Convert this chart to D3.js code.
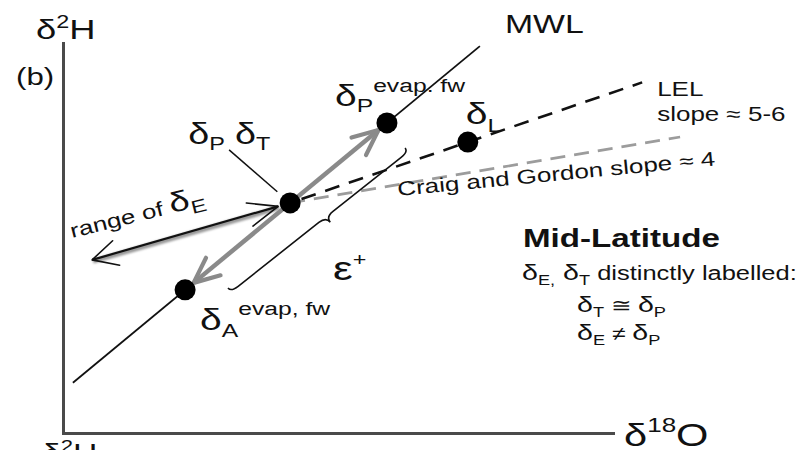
<!DOCTYPE html>
<html>
<head>
<meta charset="utf-8">
<script src="https://cdn.jsdelivr.net/npm/d3@7/dist/d3.min.js"></script>
<style>
  html, body { margin: 0; padding: 0; background: #fff; }
  svg { display: block; }
  text { font-family: "Liberation Sans", Arial, sans-serif; fill: #111; }
</style>
</head>
<body>
<svg id="chart" width="806" height="450"></svg>
<script>
// Conceptual δ18O / δ2H diagram, in relative isotope units (0–100 on each axis).
const pointNames = ["δA", "δP,δT", "δP evap", "δL"];
const pointO18 = [22.2, 41.3, 58.9, 73.6];
const pointH2 = [36.7, 59.0, 79.5, 74.6];

// Meteoric water line
const mwlO18 = [1.8, 75.8];
const mwlH2 = [12.9, 99.2];
// Local evaporation line
const lelO18 = [41.3, 105.3];
const lelH2 = [59.0, 89.9];
// Craig and Gordon line
const cgO18 = [41.3, 112.2];
const cgH2 = [59.0, 75.9];
// Range of δE (from δP,δT towards depleted values)
const rangeEO18 = [41.3, 5.3];
const rangeEH2 = [59.0, 44.4];
// ε+ bracket ends
const braceO18 = [30.0, 62.2];
const braceH2 = [37.2, 73.1];
// Leader from the δP,δT label to its point
const leaderO18 = [30.2, 41.3];
const leaderH2 = [72.6, 59.0];

const axisLabels = { y: "H", ySup: "2", x: "O", xSup: "18" };

const svg = d3.select("#chart");
const x = d3.scaleLinear().domain([0, 100]).range([63, 613]);
const y = d3.scaleLinear().domain([0, 100]).range([433, 43]);
const SX = 1.3; // horizontal text stretch

const P = i => [x(pointO18[i]), y(pointH2[i])];
const pair = (xs, ys) => xs.map((v, i) => [x(v), y(ys[i])]);

// Shorten a segment so it stops short of a marker
function trim(a, b, da, db) {
  const dx = b[0] - a[0], dy = b[1] - a[1], L = Math.hypot(dx, dy);
  const ux = dx / L, uy = dy / L;
  return [[a[0] + ux * da, a[1] + uy * da], [b[0] - ux * db, b[1] - uy * db]];
}
// Open V arrowhead at tip, pointing along (from -> tip)
function vHead(g, from, tip, len, ang, stroke, w) {
  const back = Math.atan2(from[1] - tip[1], from[0] - tip[0]);
  const a = ang * Math.PI / 180;
  const p1 = [tip[0] + len * Math.cos(back + a), tip[1] + len * Math.sin(back + a)];
  const p2 = [tip[0] + len * Math.cos(back - a), tip[1] + len * Math.sin(back - a)];
  g.append("path")
    .attr("d", `M${p1}L${tip}L${p2}`)
    .attr("fill", "none").attr("stroke", stroke).attr("stroke-width", w)
    .attr("stroke-linecap", "round").attr("stroke-linejoin", "round");
}
// Text with sub/superscript parts
function label(px, py, rot, parts, weight) {
  const t = svg.append("text")
    .attr("transform", `translate(${px},${py}) rotate(${rot}) scale(${SX},1)`)
    .attr("font-weight", weight || "normal");
  parts.forEach(p => {
    const s = t.append("tspan").attr("font-size", p.size).text(p.t);
    if (p.dy) s.attr("dy", p.dy);
    if (p.dx) s.attr("dx", p.dx);
  });
  return t;
}

const defs = svg.append("defs");
defs.append("filter").attr("id", "soft").attr("x", "-10%").attr("y", "-50%")
  .attr("width", "120%").attr("height", "200%")
  .append("feGaussianBlur").attr("stdDeviation", 1.2);

// Axes (no ticks)
const axX = svg.append("g").attr("transform", `translate(0,${y(0)})`)
  .call(d3.axisBottom(x).tickValues([]).tickSizeOuter(0));
const axY = svg.append("g").attr("transform", `translate(${x(0)},0)`)
  .call(d3.axisLeft(y).tickValues([]).tickSizeOuter(0));
[axX, axY].forEach(a => a.select(".domain")
  .attr("stroke", "#4a4a4a").attr("stroke-width", 3).attr("stroke-linecap", "square"));

const line = d3.line();

// Craig and Gordon line (grey dashed)
svg.append("path").attr("d", line(pair(cgO18, cgH2)))
  .attr("fill", "none").attr("stroke", "#9c9c9c").attr("stroke-width", 2.6)
  .attr("stroke-dasharray", "15 9");
// LEL (black dashed)
svg.append("path").attr("d", line(pair(lelO18, lelH2)))
  .attr("fill", "none").attr("stroke", "#111").attr("stroke-width", 2.6)
  .attr("stroke-dasharray", "15 10").attr("stroke-dashoffset", -12);
// MWL
svg.append("path").attr("d", line(pair(mwlO18, mwlH2)))
  .attr("fill", "none").attr("stroke", "#111").attr("stroke-width", 1.8);

// Grey double arrow along the MWL between δA and δP evap
const ga = trim(P(0), P(2), 11, 11);
const gArrow = svg.append("g");
gArrow.append("path").attr("d", line(ga))
  .attr("stroke", "#8a8a8a").attr("stroke-width", 4.5).attr("fill", "none");
vHead(gArrow, ga[1], ga[0], 28, 24, "#8a8a8a", 4.2);
vHead(gArrow, ga[0], ga[1], 28, 24, "#8a8a8a", 4.2);

// Range of δE double arrow
const rE = pair(rangeEO18, rangeEH2);
const re = trim(rE[0], rE[1], 12.5, 0);
const rArrow = svg.append("g");
rArrow.append("path").attr("d", line(re)).attr("transform", "translate(1,1.5)")
  .attr("stroke", "#999").attr("stroke-width", 4.5).attr("fill", "none")
  .attr("filter", "url(#soft)");
rArrow.append("path").attr("d", line(re))
  .attr("stroke", "#111").attr("stroke-width", 2.2).attr("fill", "none");
vHead(rArrow, re[1], re[0], 32, 22, "#111", 1.6);
vHead(rArrow, re[0], re[1], 28, 27, "#111", 1.6);

// Leader line for δP,δT label
const ld = trim(pair(leaderO18, leaderH2)[0], pair(leaderO18, leaderH2)[1], 0, 17);
svg.append("path").attr("d", line(ld))
  .attr("stroke", "#111").attr("stroke-width", 1.5).attr("fill", "none");

// ε+ curly bracket
const bE = pair(braceO18, braceH2);
const bL = Math.hypot(bE[1][0] - bE[0][0], bE[1][1] - bE[0][1]);
const bAng = Math.atan2(bE[1][1] - bE[0][1], bE[1][0] - bE[0][0]) * 180 / Math.PI;
const h = 5, d = 12, q = 9, m = bL / 2 + 8;
svg.append("path")
  .attr("transform", `translate(${bE[0]}) rotate(${bAng})`)
  .attr("d", `M0,0 Q0,${h} ${q},${h} L${m - q},${h} Q${m},${h} ${m},${d} Q${m},${h} ${m + q},${h} L${bL - q},${h} Q${bL},${h} ${bL},0`)
  .attr("fill", "none").attr("stroke", "#111").attr("stroke-width", 1.6);

// Points
svg.selectAll("circle.pt").data(pointNames).join("circle")
  .attr("class", "pt")
  .attr("cx", (d, i) => x(pointO18[i])).attr("cy", (d, i) => y(pointH2[i]))
  .attr("r", 10.5).attr("fill", "#000");

// Axis titles
label(36, 39, 0, [{ t: "δ", size: 28 }, { t: axisLabels.ySup, size: 18, dy: -11 }, { t: axisLabels.y, size: 28, dy: 11 }]);
label(624, 446, 0, [{ t: "δ", size: 32 }, { t: axisLabels.xSup, size: 20, dy: -14 }, { t: axisLabels.x, size: 32, dy: 14 }]);
label(42, 462, 0, [{ t: "δ", size: 26 }, { t: axisLabels.ySup, size: 17, dy: -10 }, { t: axisLabels.y, size: 26, dy: 10 }]);
label(16, 85, 0, [{ t: "(b)", size: 24 }]);

// Line labels
const mw = pair(mwlO18, mwlH2)[1];
label(mw[0] + 25, mw[1] - 13, 0, [{ t: "MWL", size: 26 }]);
const le = pair(lelO18, lelH2)[1];
label(le[0] + 15, le[1] + 14, 0, [{ t: "LEL", size: 20 }]);
label(le[0] + 15, le[1] + 39, 0, [{ t: "slope ≈ 5-6", size: 20 }]);
label(398, 196, -5.5, [{ t: "Craig and Gordon slope ≈ 4", size: 20 }]);
label(72, 238, -14, [{ t: "range of ", size: 20 }, { t: "δ", size: 28 }, { t: "E", size: 18, dy: 6 }]);

// Point labels
const pA = P(0), pPT = P(1), pPe = P(2), pL = P(3);
label(pPe[0] - 52, pPe[1] - 17, 0, [{ t: "δ", size: 30 }, { t: "P", size: 19, dy: 6 }, { t: "evap. fw", size: 19, dy: -20 }]);
label(pA[0] + 15, pA[1] + 40, 0, [{ t: "δ", size: 30 }, { t: "A", size: 19, dy: 7 }, { t: "evap, fw", size: 19, dy: -22 }]);
label(pL[0] - 2, pL[1] - 18, 0, [{ t: "δ", size: 30 }, { t: "L", size: 19, dy: 8 }]);
label(pPT[0] - 102, pPT[1] - 59, 0, [{ t: "δ", size: 29 }, { t: "P", size: 18, dy: 6 }, { t: "δ", size: 29, dy: -6, dx: 8 }, { t: "T", size: 18, dy: 6 }]);
label(333, 280, 0, [{ t: "ε", size: 34 }, { t: "+", size: 18, dy: -14 }]);

// Regime note
label(523, 247, 0, [{ t: "Mid-Latitude", size: 25.5 }], "bold");
label(522, 280, 0, [{ t: "δ", size: 22 }, { t: "E,", size: 14, dy: 5 }, { t: " δ", size: 22, dy: -5 }, { t: "T", size: 14, dy: 5 }, { t: " distinctly labelled:", size: 19.6, dy: -5 }]);
label(577, 312, 0, [{ t: "δ", size: 22 }, { t: "T", size: 14, dy: 5 }, { t: " ≅ ", size: 19, dy: -5 }, { t: "δ", size: 22 }, { t: "P", size: 14, dy: 5 }]);
label(577, 340, 0, [{ t: "δ", size: 22 }, { t: "E", size: 14, dy: 5 }, { t: " ≠ ", size: 19, dy: -5 }, { t: "δ", size: 22 }, { t: "P", size: 14, dy: 5 }]);
</script>
</body>
</html>
